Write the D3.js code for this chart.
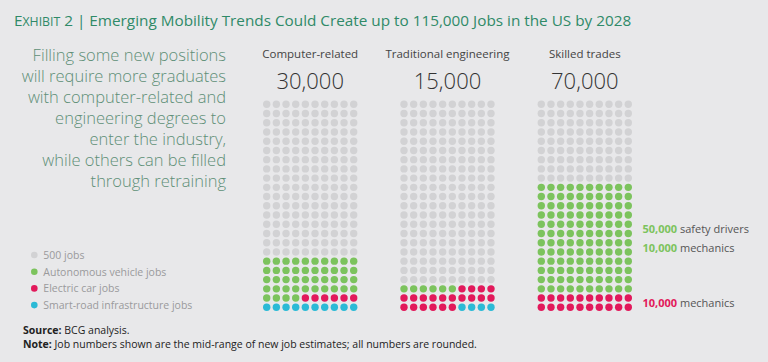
<!DOCTYPE html>
<html>
<head>
<meta charset="utf-8">
<script src="https://cdn.jsdelivr.net/npm/d3@7"></script>
<style>
  body { margin: 0; background: #e8e8ea; }
  svg { display: block; font-family: "Open Sans", sans-serif; }
</style>
</head>
<body>
<div id="chart"></div>
<script>
const w = 768;
const h = 362;

// data
const categories = ["Computer-related", "Traditional engineering", "Skilled trades"];
const totals = [30000, 15000, 70000];
const smartRoadJobs = [5000, 2000, 0];
const electricJobs = [3000, 10000, 10000];
const autonomousJobs = [22000, 3000, 60000];
const jobsPerDot = 500;
const nCols = 10;
const nRows = 23;

const legendLabels = ["500 jobs", "Autonomous vehicle jobs", "Electric car jobs", "Smart-road infrastructure jobs"];
const colors = ["#d2d2d4", "#7cc35d", "#e2195b", "#2bbad6"];

const noteNumbers = ["50,000", "10,000", "10,000"];
const noteTexts = ["safety drivers", "mechanics", "mechanics"];
const noteColors = [colors[1], colors[1], colors[2]];
const noteRows = [8.5, 6.4, 0.5];

const intro = ["Filling some new positions", "will require more graduates", "with computer-related and",
  "engineering degrees to", "enter the industry,", "while others can be filled", "through retraining"];

const svg = d3.select("#chart").append("svg")
  .attr("width", w)
  .attr("height", h);

svg.append("rect").attr("width", w).attr("height", h).attr("fill", "#e8e8ea");

// title
const title = svg.append("text")
  .attr("x", 14)
  .attr("y", 26)
  .attr("fill", "#2f8a68")
  .style("font-size", "15.3px");
title.append("tspan").text("E");
title.append("tspan").style("font-size", "12.3px").text("XHIBIT");
title.append("tspan").text(" 2 | Emerging Mobility Trends Could Create up to 115,000 Jobs in the US by 2028");

// intro text
svg.append("g")
  .selectAll("text")
  .data(intro)
  .join("text")
  .attr("x", 226)
  .attr("y", (d, i) => 61 + i * 21)
  .attr("text-anchor", "end")
  .attr("fill", "#5e8f77")
  .style("font-size", "16.5px")
  .style("font-weight", 300)
  .text(d => d);

// scales
const gridX = d3.scalePoint().domain(categories).range([266.7, 541.3]);
const colX = d3.scalePoint().domain(d3.range(nCols)).range([0, 87]);
const rowY = d3.scalePoint().domain(d3.range(nRows)).range([307.3, 104.3]);
const rowStep = rowY(0) - rowY(1);

// build dots: filled bottom-up, right to left: smart-road, electric, autonomous, then grey
const dots = [];
categories.forEach((c, ci) => {
  const counts = [smartRoadJobs[ci], electricJobs[ci], autonomousJobs[ci]].map(v => v / jobsPerDot);
  const kinds = [];
  [3, 2, 1].forEach((k, j) => { for (let n = 0; n < counts[j]; n++) kinds.push(k); });
  for (let i = 0; i < nCols * nRows; i++) {
    const row = Math.floor(i / nCols);
    const col = nCols - 1 - (i % nCols);
    dots.push({ cat: c, row, col, kind: i < kinds.length ? kinds[i] : 0 });
  }
});

svg.append("g")
  .selectAll("circle")
  .data(dots)
  .join("circle")
  .attr("cx", d => gridX(d.cat) + colX(d.col))
  .attr("cy", d => rowY(d.row))
  .attr("r", 3.7)
  .attr("fill", d => colors[d.kind]);

// headers
const heads = svg.append("g")
  .selectAll("g")
  .data(categories)
  .join("g")
  .attr("transform", d => `translate(${gridX(d) + 43.5},0)`);

heads.append("text")
  .attr("y", 58)
  .attr("text-anchor", "middle")
  .attr("fill", "#444")
  .style("font-size", "11.5px")
  .text(d => d);

heads.append("text")
  .attr("y", 89)
  .attr("text-anchor", "middle")
  .attr("fill", "#333")
  .style("font-size", "22px")
  .style("font-weight", 300)
  .text((d, i) => d3.format(",")(totals[i]));

// annotations for skilled trades
const notes = svg.append("g")
  .selectAll("text")
  .data(noteNumbers)
  .join("text")
  .attr("x", 642.5)
  .attr("y", (d, i) => rowY(0) - noteRows[i] * rowStep + 4)
  .style("font-size", "11px");
notes.append("tspan")
  .attr("fill", (d, i) => noteColors[i])
  .style("font-weight", 700)
  .text(d => d);
notes.append("tspan")
  .attr("fill", "#555")
  .text((d, i) => " " + noteTexts[i]);

// legend
const legend = svg.append("g")
  .selectAll("g")
  .data(legendLabels)
  .join("g")
  .attr("transform", (d, i) => `translate(34.3,${255 + i * 16.7})`);
legend.append("circle")
  .attr("r", 3.3)
  .attr("fill", (d, i) => colors[i]);
legend.append("text")
  .attr("x", 9)
  .attr("y", 3.8)
  .attr("fill", "#9a9a9c")
  .style("font-size", "10.5px")
  .text(d => d);

// source and note
const foot = svg.append("g").style("font-size", "10.5px").attr("fill", "#222");
const s = foot.append("text").attr("x", 23).attr("y", 334);
s.append("tspan").style("font-weight", 700).text("Source:");
s.append("tspan").text(" BCG analysis.");
const n = foot.append("text").attr("x", 23).attr("y", 348);
n.append("tspan").style("font-weight", 700).text("Note:");
n.append("tspan").text(" Job numbers shown are the mid-range of new job estimates; all numbers are rounded.");
</script>
</body>
</html>
